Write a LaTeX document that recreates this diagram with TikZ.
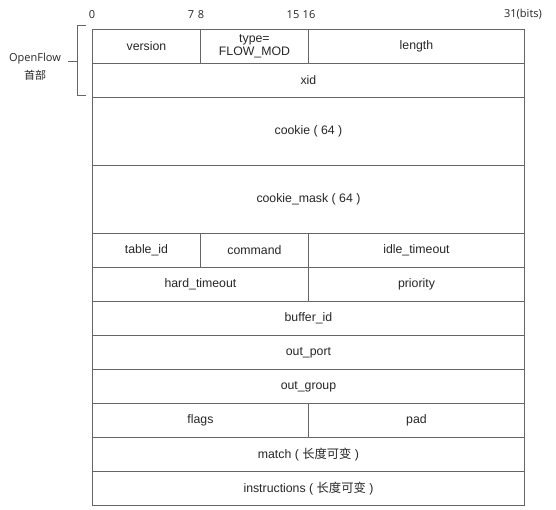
\documentclass[tikz,border=0pt]{standalone}
\usepackage{fontspec}
\setmainfont{Liberation Sans}
\newfontfamily\cjk{Noto Sans CJK SC}
\newfontfamily\lab{Open Sans}
\begin{document}
\begin{tikzpicture}[x=1pt,y=-1pt,
  line/.style={draw=black!60, line width=0.9pt},
  cell/.style={line, rectangle, inner sep=0pt, font=\fontsize{12.3}{13.5}\selectfont, text=black!85, anchor=north west},
  bitlab/.style={font=\lab\fontsize{11}{12}\selectfont, text=black!85, inner sep=0pt}
]
\useasboundingbox (0,0) rectangle (556,510);
% bit labels
\node[bitlab] (b0) at (92,15) {0};
\node[bitlab] (b7) at (191,15) {7};
\node[bitlab] (b8) at (201,15) {8};
\node[bitlab] (b15) at (293,15) {15};
\node[bitlab] (b16) at (309,15) {16};
\node[bitlab] (b31) at (523,14) {31(bits)};
% header label
\node[bitlab] (ofl) at (35,59) {OpenFlow};
\node[bitlab] (hdr) at (35,75) {\cjk 首部};
\coordinate (bt) at (86,25);
\coordinate (bb) at (86,95);
\coordinate (bm) at (77.5,61.5);
\draw[line] (bt) -- (77.5,25) -- (77.5,95) -- (bb);
\draw[line] (68,61.5) -- (bm);
% rows
\node[cell, minimum width=108pt, minimum height=34pt] (version) at (92,29) {version};
\node[cell, minimum width=108pt, minimum height=34pt, align=center] (type) at (200,29) {type=\\FLOW\_MOD};
\node[cell, minimum width=216pt, minimum height=34pt] (length) at (308,29) {length};
\node[cell, minimum width=432pt, minimum height=34pt] (xid) at (92,63) {xid};
\node[cell, minimum width=432pt, minimum height=68pt] (cookie) at (92,97) {cookie ( 64 )};
\node[cell, minimum width=432pt, minimum height=68pt] (cmask) at (92,165) {cookie\_mask ( 64 )};
\node[cell, minimum width=108pt, minimum height=34pt] (tableid) at (92,233) {table\_id};
\node[cell, minimum width=108pt, minimum height=34pt] (command) at (200,233) {command};
\node[cell, minimum width=216pt, minimum height=34pt] (idle) at (308,233) {idle\_timeout};
\node[cell, minimum width=216pt, minimum height=34pt] (hard) at (92,267) {hard\_timeout};
\node[cell, minimum width=216pt, minimum height=34pt] (prio) at (308,267) {priority};
\node[cell, minimum width=432pt, minimum height=34pt] (buffer) at (92,301) {buffer\_id};
\node[cell, minimum width=432pt, minimum height=34pt] (outport) at (92,335) {out\_port};
\node[cell, minimum width=432pt, minimum height=34pt] (outgroup) at (92,369) {out\_group};
\node[cell, minimum width=216pt, minimum height=34pt] (flags) at (92,403) {flags};
\node[cell, minimum width=216pt, minimum height=34pt] (pad) at (308,403) {pad};
\node[cell, minimum width=432pt, minimum height=34pt] (match) at (92,437) {match ( {\cjk 长度可变} )};
\node[cell, minimum width=432pt, minimum height=34pt] (instr) at (92,471) {instructions ( {\cjk 长度可变} )};
\end{tikzpicture}
\end{document}
